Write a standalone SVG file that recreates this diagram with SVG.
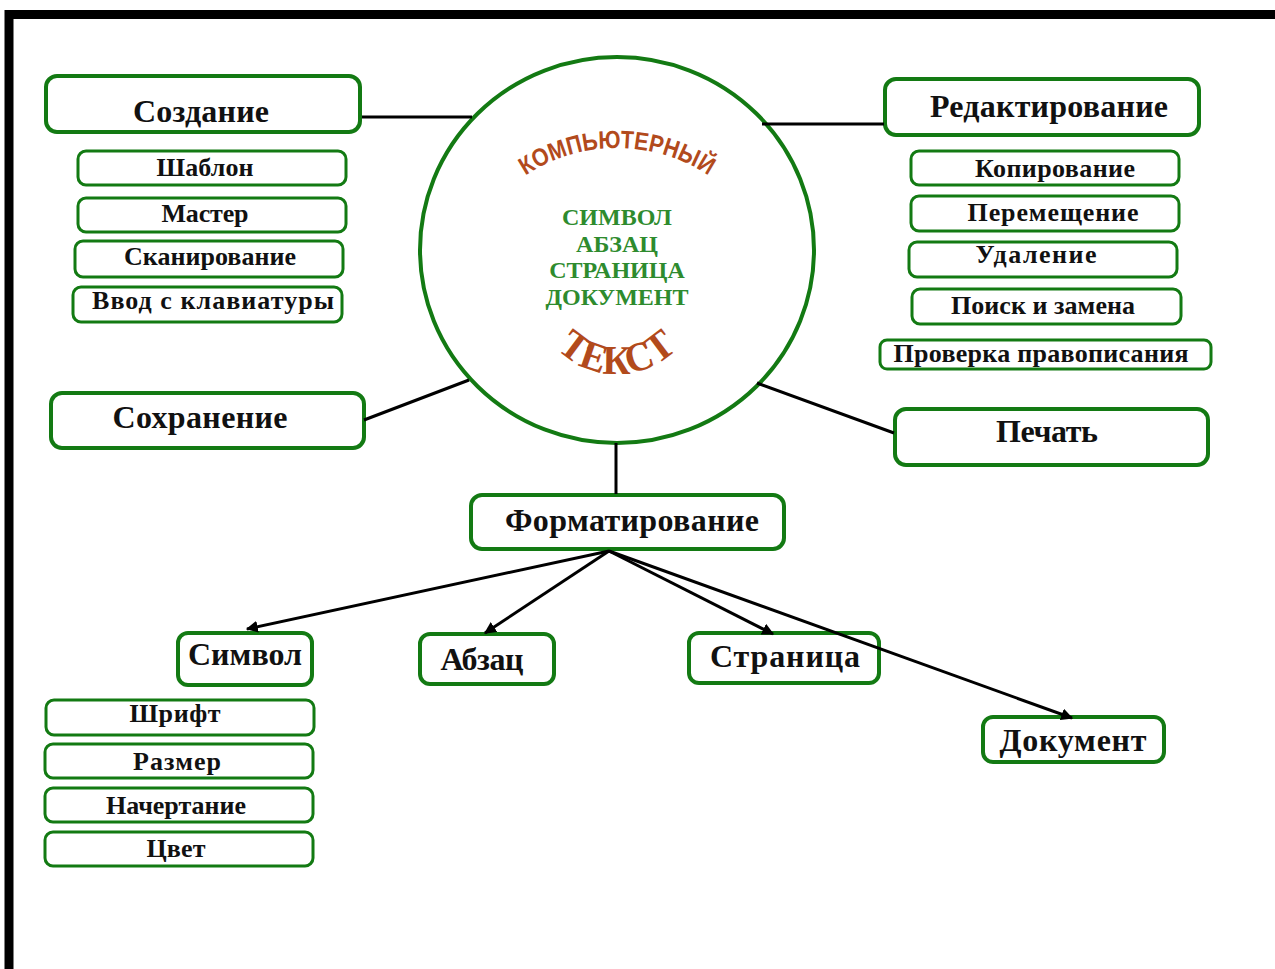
<svg xmlns="http://www.w3.org/2000/svg" width="1275" height="969" viewBox="0 0 1275 969">
<style>
.big{fill:#fff;stroke:#137a13;stroke-width:4}
.sm{fill:#fff;stroke:#137a13;stroke-width:3}
.t1{font-family:"Liberation Serif",serif;font-weight:bold;font-size:32px;fill:#111;text-anchor:middle}
.t2{font-family:"Liberation Serif",serif;font-weight:bold;font-size:26px;fill:#111;text-anchor:middle}
.cn{stroke:#000;stroke-width:3;fill:none}
.ar{stroke:#000;stroke-width:3;fill:none;marker-end:url(#ah)}
.ct{font-family:"Liberation Serif",serif;font-weight:bold;font-size:24px;fill:#2e8b2e;text-anchor:middle}
.br{fill:#b24a1c}
</style>
<defs>
<marker id="ah" viewBox="0 0 10 10" refX="9" refY="5" markerWidth="4" markerHeight="4" orient="auto" markerUnits="strokeWidth">
<path d="M0,0 L10,5 L0,10 z" fill="#000"/>
</marker>
<path id="arcTop" d="M 451 314 A 166 166 0 0 1 783 314"/>
<path id="arcBot" d="M 533 290 A 84 84 0 0 0 701 290"/>
</defs>
<rect x="0" y="0" width="1275" height="969" fill="#fff"/>
<path d="M 9 975 L 9 14.5 L 1285 14.5" fill="none" stroke="#000" stroke-width="9"/>

<g id="center">
<ellipse cx="617" cy="250" rx="197" ry="193" fill="#fff" stroke="#137a13" stroke-width="4"/>
<text font-family="Liberation Sans,Arial,sans-serif" font-weight="bold" font-size="25" class="br"><textPath href="#arcTop" startOffset="50%" text-anchor="middle" textLength="194" lengthAdjust="spacingAndGlyphs">КОМПЬЮТЕРНЫЙ</textPath></text>
<text class="ct" x="617" y="225">СИМВОЛ</text>
<text class="ct" x="617" y="252">АБЗАЦ</text>
<text class="ct" x="617" y="278">СТРАНИЦА</text>
<text class="ct" x="617" y="305">ДОКУМЕНТ</text>
<text font-family="Liberation Serif,serif" font-weight="bold" font-size="41" class="br"><textPath href="#arcBot" startOffset="50%" text-anchor="middle" textLength="134" lengthAdjust="spacingAndGlyphs">ТЕКСТ</textPath></text>
</g>

<g id="n-sozdanie"><rect class="big" x="46" y="76" width="314" height="56" rx="11"/><text class="t1" x="201" y="122" textLength="136">Создание</text></g>
<g id="n-shablon"><rect class="sm" x="78" y="151" width="268" height="34" rx="8"/><text class="t2" x="205" y="176" textLength="97">Шаблон</text></g>
<g id="n-master"><rect class="sm" x="78" y="198" width="268" height="34" rx="8"/><text class="t2" x="205" y="222" textLength="87">Мастер</text></g>
<g id="n-skan"><rect class="sm" x="75" y="241" width="268" height="36" rx="8"/><text class="t2" x="210" y="265" textLength="172">Сканирование</text></g>
<g id="n-vvod"><rect class="sm" x="73" y="287" width="269" height="35" rx="8"/><text class="t2" x="213" y="309" textLength="242">Ввод с клавиатуры</text></g>
<g id="n-sohr"><rect class="big" x="51" y="393" width="313" height="55" rx="11"/><text class="t1" x="200" y="428" textLength="175">Сохранение</text></g>

<g id="n-red"><rect class="big" x="885" y="79" width="314" height="56" rx="11"/><text class="t1" x="1049" y="117" textLength="238">Редактирование</text></g>
<g id="n-kop"><rect class="sm" x="911" y="151" width="268" height="34" rx="8"/><text class="t2" x="1055" y="177" textLength="160">Копирование</text></g>
<g id="n-per"><rect class="sm" x="911" y="196" width="268" height="35" rx="8"/><text class="t2" x="1053" y="221" textLength="171">Перемещение</text></g>
<g id="n-ud"><rect class="sm" x="909" y="242" width="268" height="35" rx="8"/><text class="t2" x="1036" y="263" textLength="121">Удаление</text></g>
<g id="n-poisk"><rect class="sm" x="912" y="289" width="269" height="35" rx="8"/><text class="t2" x="1043" y="314" textLength="184">Поиск и замена</text></g>
<g id="n-prov"><rect class="sm" x="880" y="340" width="331" height="29" rx="7"/><text class="t2" x="1041" y="362" textLength="295">Проверка правописания</text></g>
<g id="n-pech"><rect class="big" x="895" y="409" width="313" height="56" rx="11"/><text class="t1" x="1047" y="442" textLength="102">Печать</text></g>

<g id="n-format"><rect class="big" x="471" y="495" width="313" height="54" rx="11"/><text class="t1" x="632" y="531" textLength="254">Форматирование</text></g>
<g id="n-simvol"><rect class="big" x="178" y="633" width="134" height="52" rx="10"/><text class="t1" x="245" y="665" textLength="114">Символ</text></g>
<g id="n-abzac"><rect class="big" x="420" y="634" width="134" height="50" rx="10"/><text class="t1" x="482" y="670" textLength="83">Абзац</text></g>
<g id="n-stran"><rect class="big" x="689" y="633" width="190" height="50" rx="10"/><text class="t1" x="785" y="667" textLength="150">Страница</text></g>
<g id="n-dok"><rect class="big" x="983" y="717" width="181" height="45" rx="10"/><text class="t1" x="1073" y="751" textLength="147">Документ</text></g>

<g id="n-shrift"><rect class="sm" x="46" y="700" width="268" height="35" rx="8"/><text class="t2" x="175" y="722" textLength="91">Шрифт</text></g>
<g id="n-razmer"><rect class="sm" x="45" y="744" width="268" height="34" rx="8"/><text class="t2" x="177" y="770" textLength="88">Размер</text></g>
<g id="n-nach"><rect class="sm" x="45" y="788" width="268" height="34" rx="8"/><text class="t2" x="176" y="814" textLength="140">Начертание</text></g>
<g id="n-cvet"><rect class="sm" x="45" y="832" width="268" height="34" rx="8"/><text class="t2" x="176" y="857" textLength="59">Цвет</text></g>

<g id="connectors">
<line class="cn" x1="362" y1="117" x2="472" y2="117"/>
<line class="cn" x1="884" y1="124" x2="762" y2="124"/>
<line class="cn" x1="364" y1="420" x2="469" y2="380"/>
<line class="cn" x1="894" y1="433" x2="757" y2="383"/>
<line class="cn" x1="616" y1="443" x2="616" y2="494"/>
<line class="ar" x1="609" y1="551" x2="247" y2="629"/>
<line class="ar" x1="609" y1="551" x2="485" y2="633"/>
<line class="ar" x1="609" y1="551" x2="773" y2="634"/>
<line class="ar" x1="609" y1="551" x2="1072" y2="718"/>
</g>
</svg>
